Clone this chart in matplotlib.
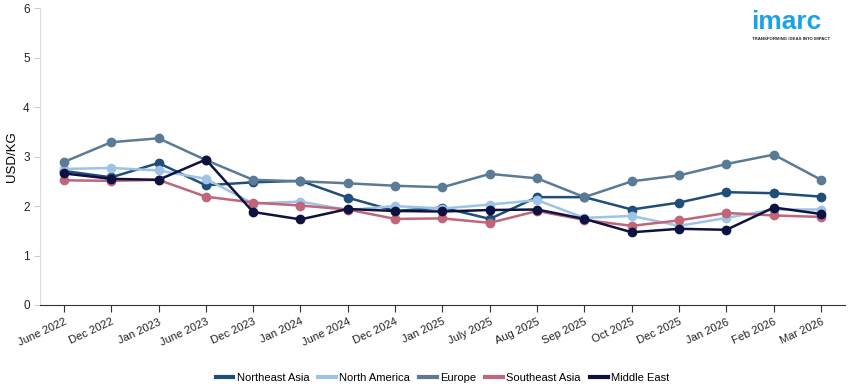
import matplotlib
matplotlib.use("Agg")
import matplotlib.pyplot as plt

plt.rcParams['font.family'] = ['Liberation Sans', 'DejaVu Sans']

periods = ["June 2022", "Dec 2022", "Jan 2023", "June 2023", "Dec 2023", "Jan 2024",
           "June 2024", "Dec 2024", "Jan 2025", "July 2025", "Aug 2025", "Sep 2025",
           "Oct 2025", "Dec 2025", "Jan 2026", "Feb 2026", "Mar 2026"]

northeast_asia = [2.71, 2.58, 2.87, 2.42, 2.48, 2.51, 2.17, 1.90, 1.97, 1.74, 2.18, 2.18,
                  1.93, 2.07, 2.28, 2.26, 2.19]
north_america = [2.75, 2.77, 2.72, 2.55, 2.05, 2.09, 1.92, 2.00, 1.95, 2.03, 2.12, 1.76,
                 1.80, 1.60, 1.76, 1.93, 1.93]
europe = [2.89, 3.29, 3.37, 2.93, 2.53, 2.50, 2.46, 2.41, 2.38, 2.65, 2.56, 2.18,
          2.50, 2.62, 2.85, 3.04, 2.53]
southeast_asia = [2.52, 2.51, 2.53, 2.19, 2.07, 2.01, 1.93, 1.74, 1.75, 1.66, 1.90, 1.72,
                  1.60, 1.71, 1.86, 1.81, 1.78]
middle_east = [2.66, 2.55, 2.53, 2.94, 1.88, 1.73, 1.94, 1.90, 1.89, 1.92, 1.93, 1.74,
               1.47, 1.54, 1.52, 1.97, 1.84]

series = [
    ("Northeast Asia", northeast_asia, "#1f4e79"),
    ("North America", north_america, "#9dc3e6"),
    ("Europe", europe, "#5b7a95"),
    ("Southeast Asia", southeast_asia, "#c0657a"),
    ("Middle East", middle_east, "#0e1240"),
]

fig = plt.figure(figsize=(8.55, 3.9), dpi=100)
ax = fig.add_axes([0.047, 0.218, 0.941, 0.761])

x = list(range(len(periods)))
for name, vals, col in series:
    ax.plot(x, vals, color=col, lw=1.8, marker="o", ms=6, label=name)

ax.set_xlim(-0.5, len(periods) - 0.5)
ax.set_ylim(0, 6)
ax.set_yticks(range(0, 7))
ax.set_xticks(x)
ax.set_xticklabels(periods, rotation=25, ha="right", fontsize=8, rotation_mode="anchor")
ax.tick_params(axis="y", labelsize=8.5, length=4, color="#cccccc", colors="#222222")
ax.tick_params(axis="x", length=5, color="#333333", colors="#222222")
for lab in ax.get_yticklabels():
    lab.set_color("#222222")
ax.set_ylabel("USD/KG", fontsize=9.5, labelpad=4)

ax.spines["top"].set_visible(False)
ax.spines["right"].set_visible(False)
ax.spines["left"].set_color("#dddddd")
ax.spines["bottom"].set_color("#333333")

leg = ax.legend(loc="upper center", bbox_to_anchor=(0.5, -0.195), ncol=5, frameon=False,
                fontsize=8, handlelength=1.6, handletextpad=0.3, columnspacing=0.8)
for h in leg.get_lines():
    h.set_marker("")
    h.set_linewidth(3)

fig.text(0.878, 0.925, "imarc", color="#1ba3e6", fontsize=19, fontweight="bold",
         ha="left", va="baseline")
fig.text(0.879, 0.905, "TRANSFORMING IDEAS INTO IMPACT", color="#222222", fontsize=3.2,
         ha="left", va="top", fontweight="bold")

fig.savefig("out.png", dpi=100)
